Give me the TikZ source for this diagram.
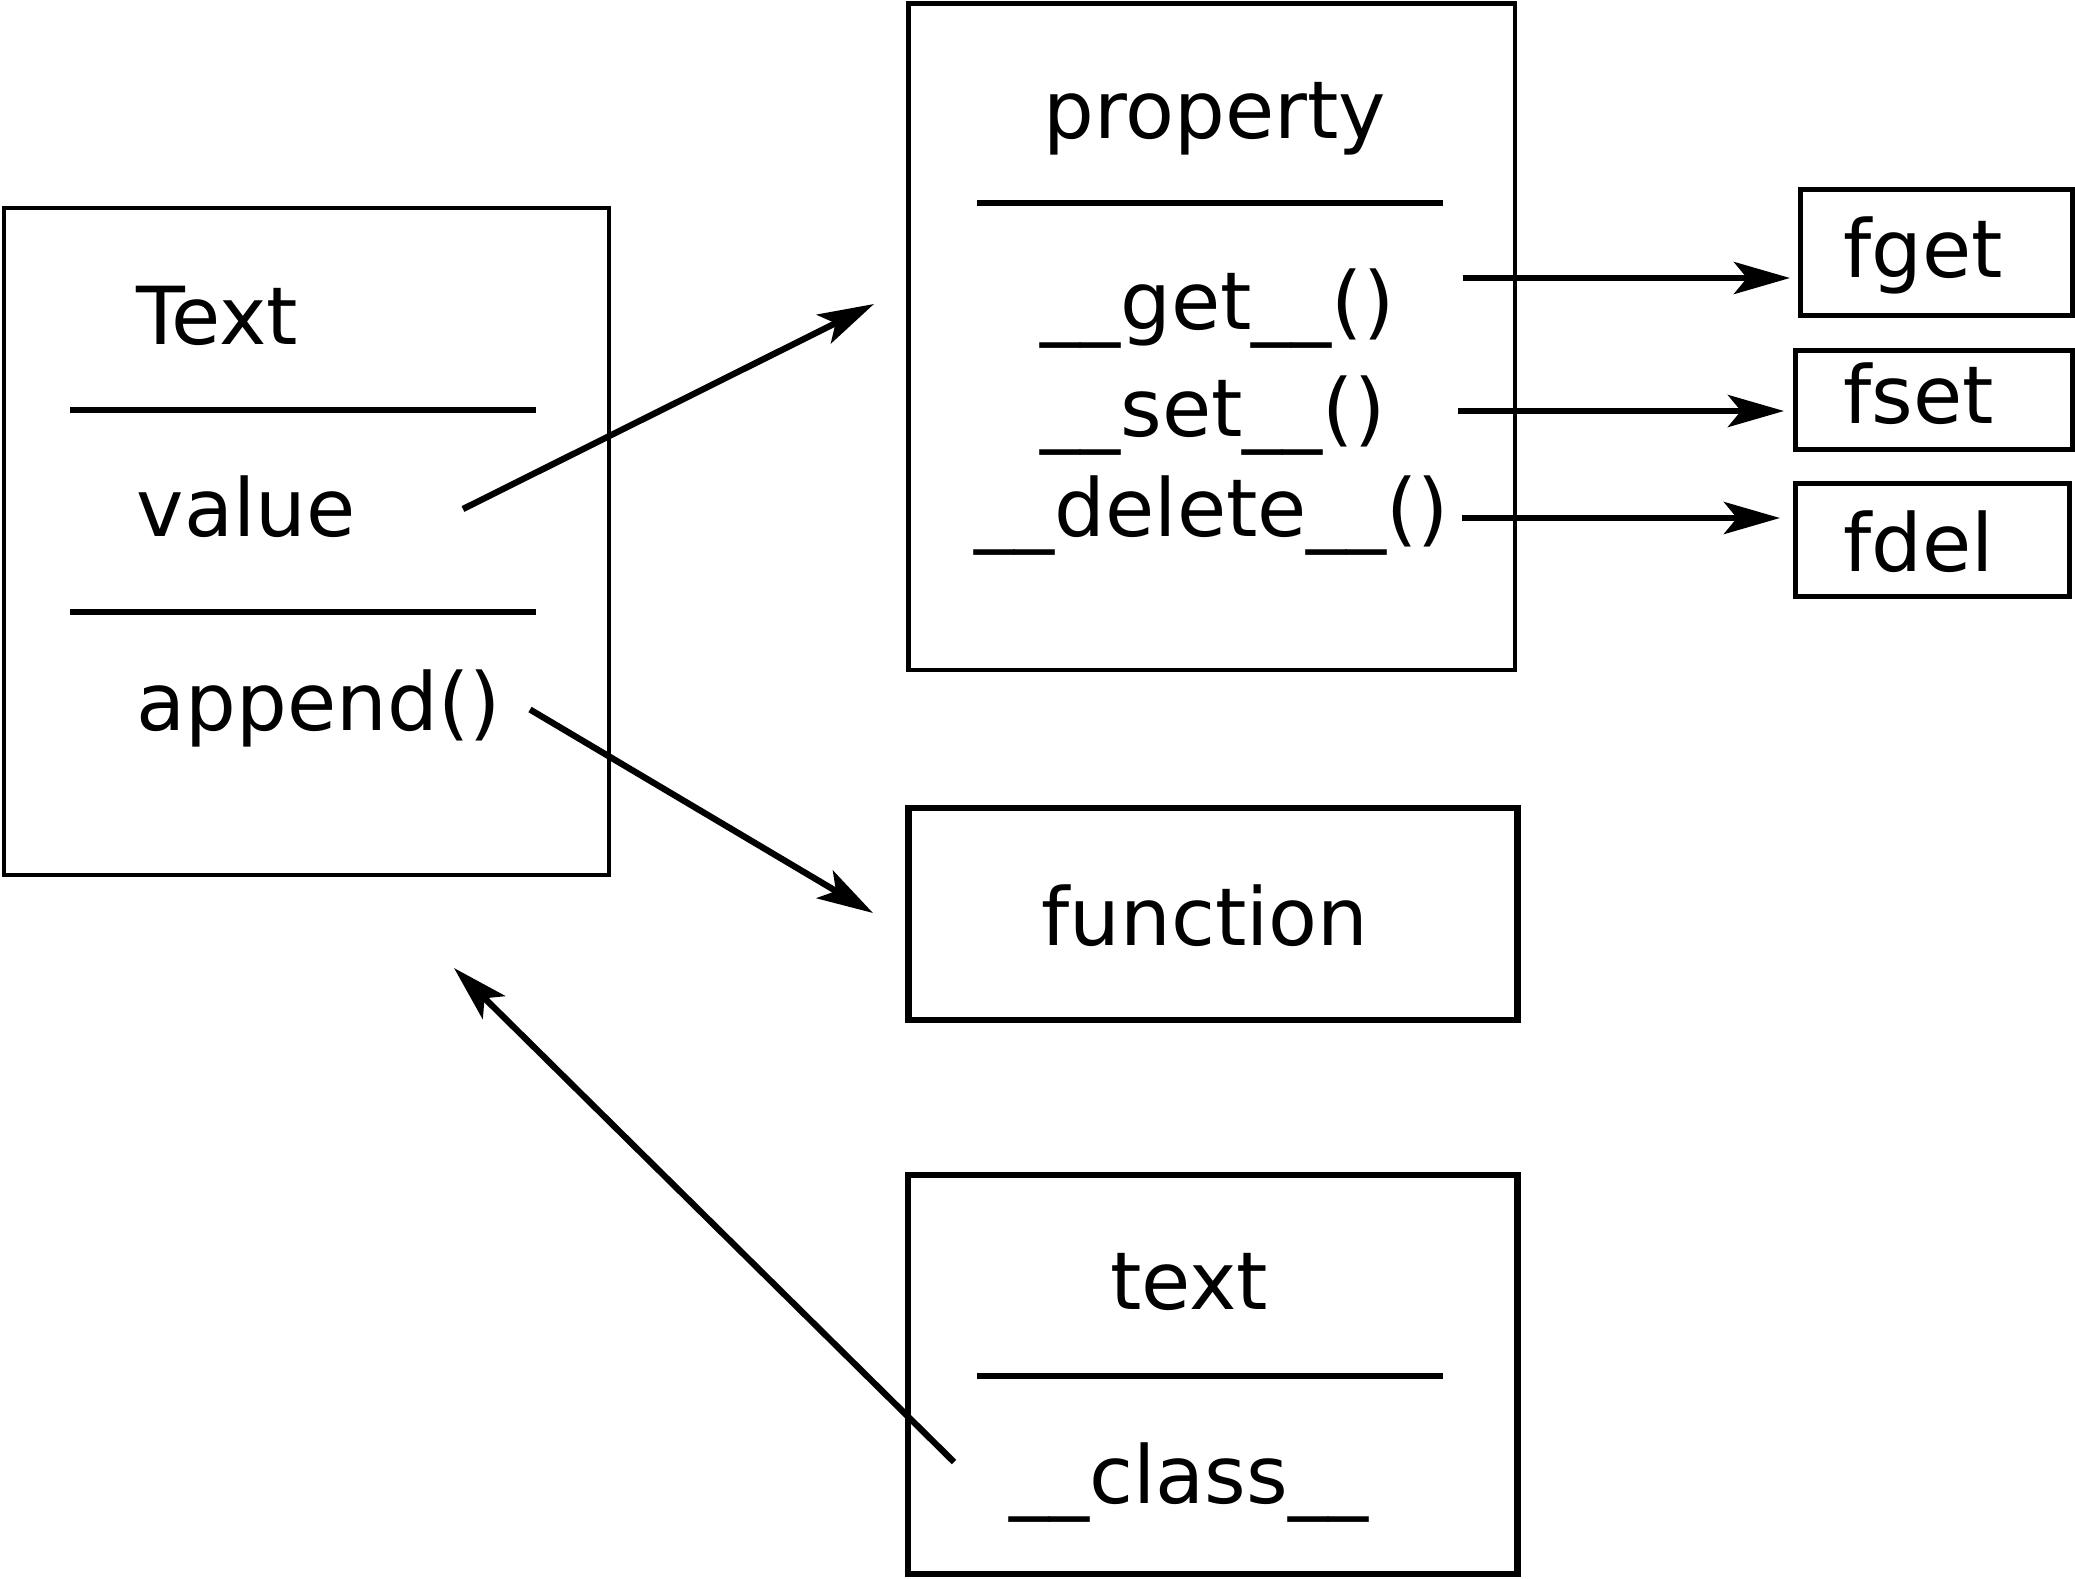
\documentclass[tikz,border=0pt]{standalone}
\usepackage{fontspec}
\setmainfont{DejaVu Sans}
\usepackage{tikz}
\usetikzlibrary{arrows.meta}
\tikzset{>={Stealth[length=5.6mm,width=3.2mm,inset=1.3mm]}}

\begin{document}
\begin{tikzpicture}[x=1mm,y=-1mm,
    thinbox/.style={line width=0.45mm},
    thickbox/.style={line width=0.67mm},
    fbox/.style={line width=0.5mm},
    sepline/.style={line width=0.6mm},
    ptr/.style={line width=0.63mm,->},
    lbl/.style={inner sep=0pt,font=\fontsize{22.76pt}{27pt}\selectfont}]
    \useasboundingbox (0,0) rectangle (207.5,157.9);
    \draw[thinbox] (0.4,20.8) rectangle (60.9,87.5);
    \draw[sepline] (7.04,41.0) -- (53.64,41.0);
    \draw[sepline] (7.04,61.24) -- (53.64,61.24);
    \node[lbl,anchor=base west] (cls) at (13.56,34.44) {Text};
    \node[lbl,anchor=base west] (value) at (13.6,53.65) {value};
    \node[lbl,anchor=base west] (append) at (13.6,73.0) {append()};
    \draw[thinbox] (90.85,0.35) rectangle (151.5,67.0);
    \draw[sepline] (97.7,20.25) -- (144.3,20.25);
    \node[lbl,anchor=base] (prop) at (121.5,13.8) {property};
    \node[lbl,anchor=base] (get) at (121.75,32.96) {\_\_get\_\_()};
    \node[lbl,anchor=base] (set) at (121.3,43.6) {\_\_set\_\_()};
    \node[lbl,anchor=base] (del) at (121.2,53.6) {\_\_delete\_\_()};
    \draw[fbox] (180.0,18.9) rectangle (207.2,31.5);
    \draw[fbox] (179.5,35.0) rectangle (207.2,44.9);
    \draw[fbox] (179.5,48.3) rectangle (206.9,59.6);
    \node[lbl,anchor=base west] (fget) at (184.3,27.7) {fget};
    \node[lbl,anchor=base west] (fset) at (184.3,42.3) {fset};
    \node[lbl,anchor=base west] (fdel) at (184.3,57.1) {fdel};
    \draw[thickbox] (90.83,80.8) rectangle (151.75,102.0);
    \node[lbl,anchor=base] (func) at (120.5,94.5) {function};
    \draw[thickbox] (90.8,117.5) rectangle (151.75,157.4);
    \draw[sepline] (97.7,137.6) -- (144.3,137.6);
    \node[lbl,anchor=base] (obj) at (118.9,130.9) {text};
    \node[lbl,anchor=base] (klass) at (118.9,150.3) {\_\_class\_\_};
    \coordinate (valueout) at (46.3,50.9);
    \coordinate (propin) at (87.4,30.4);
    \coordinate (appendout) at (53.0,70.95);
    \coordinate (funcin) at (87.3,91.3);
    \coordinate (klassout) at (95.4,146.2);
    \coordinate (clsin) at (45.4,96.8);
    \coordinate (getout) at (146.3,27.8);
    \coordinate (fgetin) at (179.0,27.8);
    \coordinate (setout) at (145.8,41.1);
    \coordinate (fsetin) at (178.4,41.1);
    \coordinate (delout) at (146.2,51.8);
    \coordinate (fdelin) at (178.0,51.8);
    \draw[ptr] (valueout) -- (propin);
    \draw[ptr] (appendout) -- (funcin);
    \draw[ptr] (klassout) -- (clsin);
    \draw[ptr] (getout) -- (fgetin);
    \draw[ptr] (setout) -- (fsetin);
    \draw[ptr] (delout) -- (fdelin);
\end{tikzpicture}
\end{document}
